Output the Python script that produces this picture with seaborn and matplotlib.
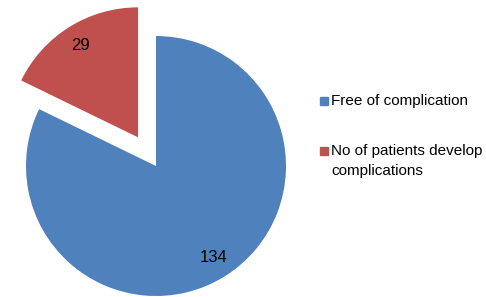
import matplotlib
matplotlib.use("Agg")
import matplotlib.pyplot as plt
from matplotlib.patches import Rectangle
import numpy as np
import seaborn as sns

categories = ["Free of complication", "No of patients develop\ncomplications"]
counts = [134, 29]
colors = ["#4F81BD", "#C0504D"]
explode = [0, 0.26]

sns.set_theme(style="white")
plt.rcParams["font.family"] = ["Liberation Sans", "DejaVu Sans"]

W, H = 486, 297
fig = plt.figure(figsize=(W / 100, H / 100), dpi=100)

# pie axes: centre ~(156,166) px from top-left, radius ~130 px
R = 130
L = 1.3
size = 2 * L * R
cx, cy = 156, H - 166
ax = fig.add_axes([(cx - size / 2) / W, (cy - size / 2) / H, size / W, size / H])

wedges, texts = ax.pie(counts, colors=colors, explode=explode, startangle=90,
                       counterclock=False, radius=1, labels=None,
                       wedgeprops=dict(linewidth=0))[:2]
# pie() resets the limits, so set them afterwards
ax.set_xlim(-L, L)
ax.set_ylim(-L, L)
ax.set_aspect("equal")
ax.axis("off")

# value labels inside each wedge
for w, c in zip(wedges, counts):
    mid = np.deg2rad((w.theta1 + w.theta2) / 2)
    x0, y0 = w.center
    ax.text(x0 + 0.83 * np.cos(mid), y0 + 0.83 * np.sin(mid), str(c),
            ha="center", va="center", fontsize=12, color="black")

# legend drawn like the source (square aligned with first text line)
rows = [101, 151]
for lab, col, y in zip(categories, colors, rows):
    fig.patches.append(Rectangle((320 / W, (H - y - 4) / H), 8 / W, 8 / H,
                                 transform=fig.transFigure, color=col))
    for i, ln in enumerate(lab.split("\n")):
        fig.text(331 / W, (H - y - i * 20) / H, ln, ha="left", va="center",
                 fontsize=11, color="black")

fig.savefig("out.png", dpi=100)
